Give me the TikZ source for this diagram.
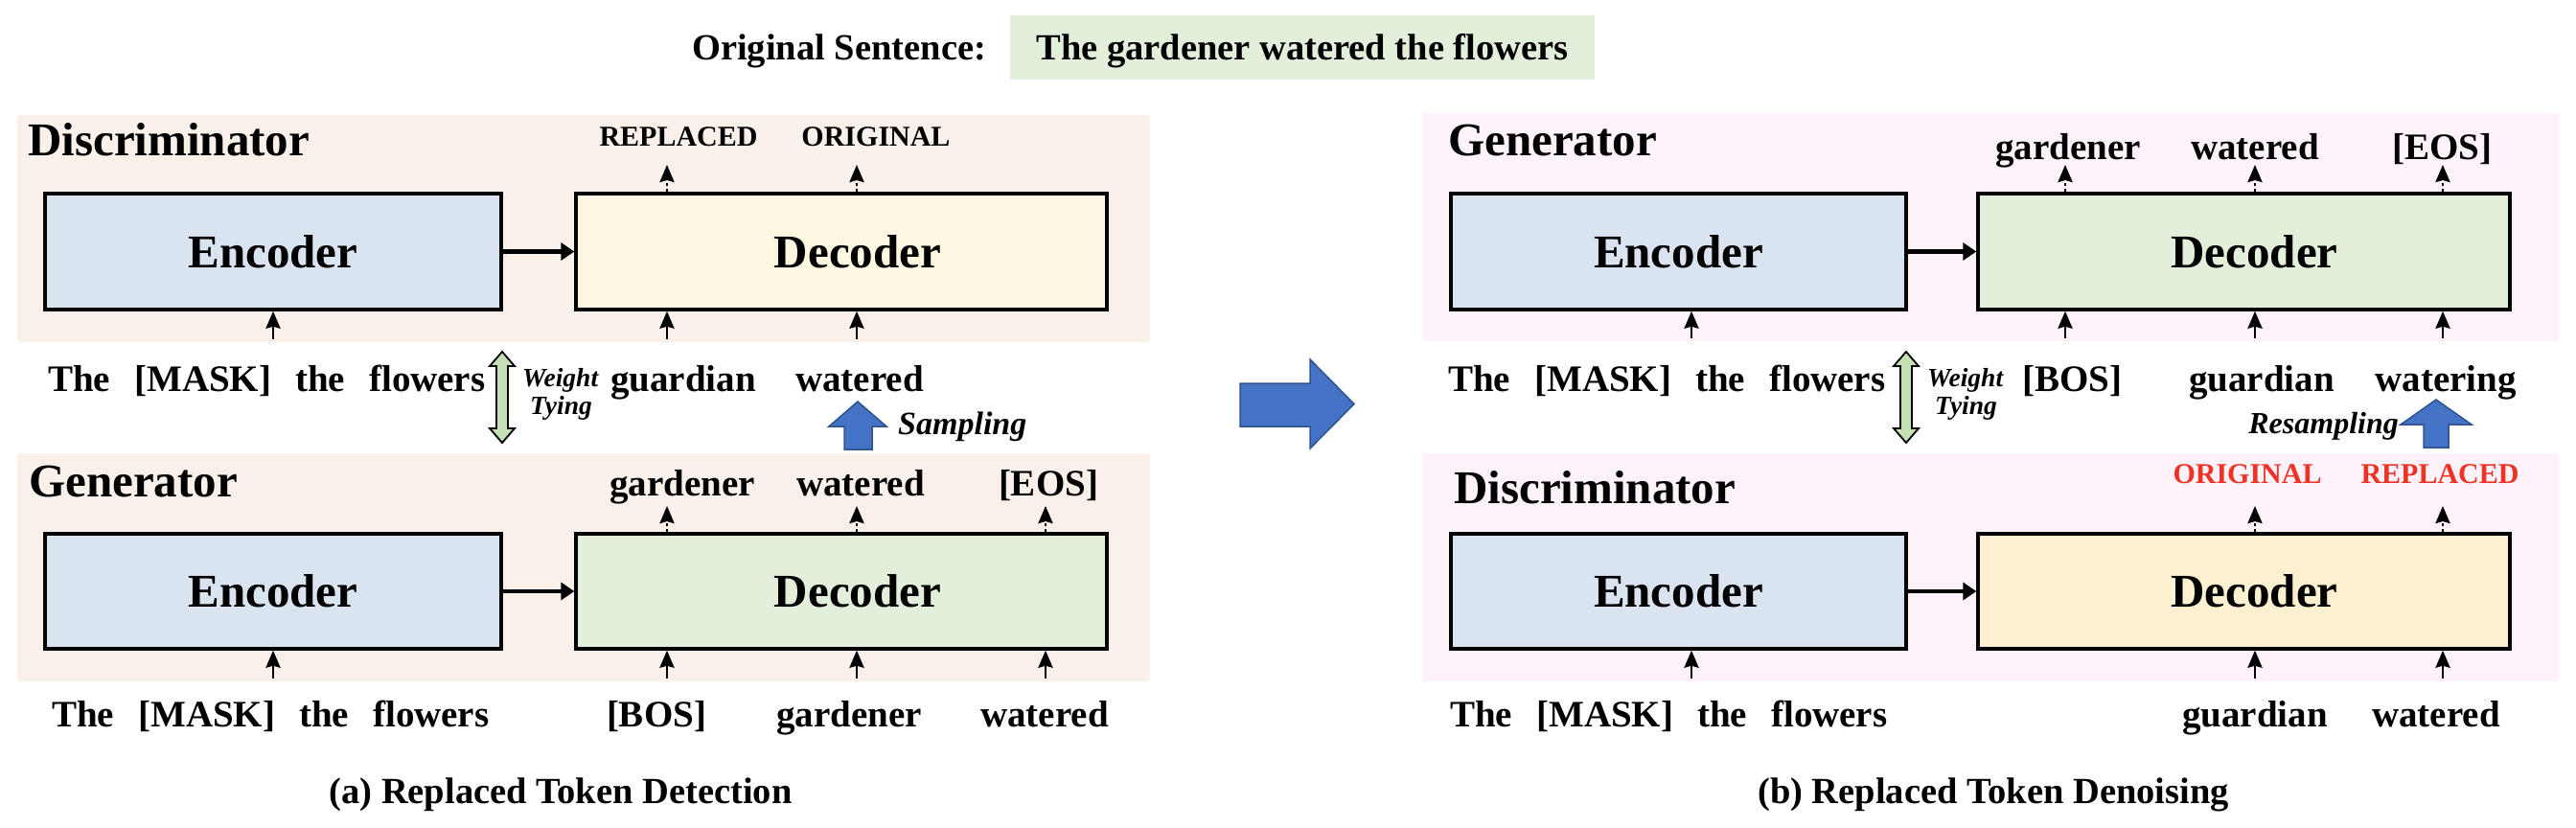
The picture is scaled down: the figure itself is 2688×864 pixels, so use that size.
\documentclass[tikz,border=0pt]{standalone}
\usepackage{fontspec}
\setmainfont{Liberation Serif}
\usetikzlibrary{arrows.meta}
\definecolor{peachbg}{HTML}{FAF0EA}
\definecolor{pinkbg}{HTML}{FDF1FA}
\definecolor{encfill}{HTML}{DAE3F0}
\definecolor{decyellowA}{HTML}{FDF6E0}
\definecolor{decgreen}{HTML}{E2EFDA}
\definecolor{decyellowB}{HTML}{FDF0D0}
\definecolor{titlegreen}{HTML}{E2EFDA}
\definecolor{arrowblue}{HTML}{4472C4}
\definecolor{arrowblueedge}{HTML}{2F528F}
\definecolor{tiegreen}{HTML}{C5E0B4}
\definecolor{labelred}{HTML}{EE3224}
\newcommand\fsBig{\fontsize{49}{55}\selectfont\bfseries}
\newcommand\fsWord{\fontsize{39}{45}\selectfont\bfseries}
\newcommand\fsCap{\fontsize{30}{35}\selectfont\bfseries}
\newcommand\fsTie{\fontsize{27.5}{30}\selectfont\bfseries\itshape}
\newcommand\fsSamp{\fontsize{34}{38}\selectfont\bfseries\itshape}
\newcommand\fsResamp{\fontsize{32}{36}\selectfont\bfseries\itshape}
\newcommand\fsTitle{\fontsize{38.5}{44}\selectfont\bfseries}
\newcommand\gap{\hspace{25pt}}
\begin{document}
\begin{tikzpicture}[x=1pt,y=-1pt,
  word/.style={font=\fsWord, anchor=base, inner sep=0pt},
  wordw/.style={word, anchor=base west},
  caplabel/.style={font=\fsCap, anchor=base, inner sep=0pt},
  ptitle/.style={font=\fsBig, anchor=base west, inner sep=0pt},
  block/.style={draw, line width=3.4pt, font=\fsBig, inner sep=0pt},
  inarrow/.style={-{Stealth[length=18pt,width=15pt,inset=2pt]}, line width=2.6pt},
  outarrow/.style={inarrow, dash pattern=on 3pt off 3pt},
  linkarrow/.style={-{Triangle[length=14pt,width=18pt]}, line width=4.5pt},
  bluearrow/.style={fill=arrowblue, draw=arrowblueedge, line width=1.5pt},
  tiearrow/.style={fill=tiegreen, draw=black, line width=1.8pt},
  tietext/.style={font=\fsTie, anchor=base west, inner sep=0pt}
]
\useasboundingbox (0,0) rectangle (2688,864);

% ---------- title ----------
\node[font=\fsTitle, anchor=base west, inner sep=0pt] (ostitle) at (722,63) {Original Sentence:};
\node[fill=titlegreen, font=\fsTitle, minimum width=610pt, minimum height=67pt,
      text height=30pt, text depth=3pt, inner sep=0pt] (osbox) at (1359,49.5)
      {The gardener watered the flowers};

% ---------- panel backgrounds ----------
\fill[peachbg, rounded corners=3pt] (18,120) rectangle (1200,357);
\fill[peachbg, rounded corners=3pt] (18,473) rectangle (1200,711);
\fill[pinkbg] (1484,118) rectangle (2670,356);
\fill[pinkbg] (1484,473) rectangle (2670,711);

% ================= (a) left =================
% Discriminator (top)
\node[ptitle] (ldtitle) at (29,162) {Discriminator};
\node[block, fill=encfill, minimum width=476pt, minimum height=121pt] (lenc1) at (285,262.5) {Encoder};
\node[block, fill=decyellowA, minimum width=554pt, minimum height=121pt] (ldec1) at (878,262.5) {\hspace*{34pt}Decoder};
\draw[linkarrow] (lenc1.east) -- (ldec1.west);

\node[caplabel] (lo1) at (708,153) {REPLACED};
\node[caplabel] (lo2) at (914,153) {ORIGINAL};
\coordinate (lo1t) at (696,172);
\coordinate (lo2t) at (894,172);
\draw[outarrow] (lo1t |- ldec1.north) -- (lo1t);
\draw[outarrow] (lo2t |- ldec1.north) -- (lo2t);

\coordinate (li1) at (285,354);
\coordinate (li2) at (696,354);
\coordinate (li3) at (894,354);
\draw[inarrow] (li1) -- (li1 |- lenc1.south);
\draw[inarrow] (li2) -- (li2 |- ldec1.south);
\draw[inarrow] (li3) -- (li3 |- ldec1.south);

\node[wordw] (lrow1a) at (50,408) {The\gap[MASK]\gap the\gap flowers};
\node[wordw] (lrow1b) at (637,408) {guardian};
\node[wordw] (lrow1c) at (830,408) {watered};

% weight tying arrow (left)
\draw[tiearrow] (524,367) -- (537,382) -- (530,382) -- (530,447) -- (537,447) -- (524,462)
  -- (511,447) -- (518,447) -- (518,382) -- (511,382) -- cycle;
\node[tietext] (ltie1) at (545,403) {Weight};
\node[tietext] (ltie2) at (553,432) {Tying};

% sampling arrow
\draw[bluearrow] (895,419) -- (925,445) -- (910,445) -- (910,469) -- (881,469) -- (881,445) -- (865,445) -- cycle;
\node[font=\fsSamp, anchor=base west, inner sep=0pt] (lsamp) at (937,453) {Sampling};

% Generator (bottom)
\node[ptitle] (lgtitle) at (30,518) {Generator};
\node[block, fill=encfill, minimum width=476pt, minimum height=120pt] (lenc2) at (285,617) {Encoder};
\node[block, fill=decgreen, minimum width=554pt, minimum height=120pt] (ldec2) at (878,617) {\hspace*{34pt}Decoder};
\draw[linkarrow] (lenc2.east) -- (ldec2.west);

\node[word] (lg1) at (712,517) {gardener};
\node[word] (lg2) at (898,517) {watered};
\node[word] (lg3) at (1094,517) {[EOS]};
\coordinate (lg1t) at (696,528);
\coordinate (lg2t) at (894,528);
\coordinate (lg3t) at (1091,528);
\draw[outarrow] (lg1t |- ldec2.north) -- (lg1t);
\draw[outarrow] (lg2t |- ldec2.north) -- (lg2t);
\draw[outarrow] (lg3t |- ldec2.north) -- (lg3t);

\coordinate (lj1) at (285,708);
\coordinate (lj2) at (696,708);
\coordinate (lj3) at (894,708);
\coordinate (lj4) at (1091,708);
\draw[inarrow] (lj1) -- (lj1 |- lenc2.south);
\draw[inarrow] (lj2) -- (lj2 |- ldec2.south);
\draw[inarrow] (lj3) -- (lj3 |- ldec2.south);
\draw[inarrow] (lj4) -- (lj4 |- ldec2.south);

\node[wordw] (lrow2a) at (54,758) {The\gap[MASK]\gap the\gap flowers};
\node[word] (lrow2b) at (685,758) {[BOS]};
\node[word] (lrow2c) at (886,758) {gardener};
\node[word] (lrow2d) at (1090,758) {watered};

\node[font=\fsTitle, anchor=base, inner sep=0pt] (capa) at (585,838) {(a) Replaced Token Detection};

% ---------- big middle arrow ----------
\draw[bluearrow] (1294,400) -- (1367,400) -- (1367,375) -- (1413,421.5) -- (1367,468) -- (1367,445) -- (1294,445) -- cycle;

% ================= (b) right =================
% Generator (top)
\node[ptitle] (rgtitle) at (1511,162) {Generator};
\node[block, fill=encfill, minimum width=475pt, minimum height=121pt] (renc1) at (1751.5,262.5) {Encoder};
\node[block, fill=decgreen, minimum width=555pt, minimum height=121pt] (rdec1) at (2341.5,262.5) {\hspace*{22pt}Decoder};
\draw[linkarrow] (renc1.east) -- (rdec1.west);

\node[word] (rg1) at (2158,166) {gardener};
\node[word] (rg2) at (2353,166) {watered};
\node[word] (rg3) at (2548,166) {[EOS]};
\coordinate (rg1t) at (2155,172);
\coordinate (rg2t) at (2353,172);
\coordinate (rg3t) at (2549,172);
\draw[outarrow] (rg1t |- rdec1.north) -- (rg1t);
\draw[outarrow] (rg2t |- rdec1.north) -- (rg2t);
\draw[outarrow] (rg3t |- rdec1.north) -- (rg3t);

\coordinate (ri1) at (1765,353);
\coordinate (ri2) at (2155,353);
\coordinate (ri3) at (2353,353);
\coordinate (ri4) at (2549,353);
\draw[inarrow] (ri1) -- (ri1 |- renc1.south);
\draw[inarrow] (ri2) -- (ri2 |- rdec1.south);
\draw[inarrow] (ri3) -- (ri3 |- rdec1.south);
\draw[inarrow] (ri4) -- (ri4 |- rdec1.south);

\node[wordw] (rrow1a) at (1511,408) {The\gap[MASK]\gap the\gap flowers};
\node[word] (rrow1b) at (2162,408) {[BOS]};
\node[word] (rrow1c) at (2360,408) {guardian};
\node[word] (rrow1d) at (2552,408) {watering};

% weight tying arrow (right)
\draw[tiearrow] (1989,367) -- (2002,382) -- (1995,382) -- (1995,447) -- (2002,447) -- (1989,462)
  -- (1976,447) -- (1983,447) -- (1983,382) -- (1976,382) -- cycle;
\node[tietext] (rtie1) at (2011,403) {Weight};
\node[tietext] (rtie2) at (2019,432) {Tying};

% resampling arrow
\draw[bluearrow] (2542,417) -- (2579,443) -- (2555,443) -- (2555,467) -- (2529,467) -- (2529,443) -- (2505,443) -- cycle;
\node[font=\fsResamp, anchor=base east, inner sep=0pt] (rsamp) at (2503,452) {Resampling};

% Discriminator (bottom)
\node[ptitle] (rdtitle) at (1517,525) {Discriminator};
\node[block, fill=encfill, minimum width=475pt, minimum height=120pt] (renc2) at (1751.5,617) {Encoder};
\node[block, fill=decyellowB, minimum width=555pt, minimum height=120pt] (rdec2) at (2341.5,617) {\hspace*{22pt}Decoder};
\draw[linkarrow] (renc2.east) -- (rdec2.west);

\node[caplabel, text=labelred] (ro1) at (2345,504) {ORIGINAL};
\node[caplabel, text=labelred] (ro2) at (2546,504) {REPLACED};
\coordinate (ro1t) at (2353,528);
\coordinate (ro2t) at (2549,528);
\draw[outarrow] (ro1t |- rdec2.north) -- (ro1t);
\draw[outarrow] (ro2t |- rdec2.north) -- (ro2t);

\coordinate (rj1) at (1765,708);
\coordinate (rj2) at (2353,708);
\coordinate (rj3) at (2549,708);
\draw[inarrow] (rj1) -- (rj1 |- renc2.south);
\draw[inarrow] (rj2) -- (rj2 |- rdec2.south);
\draw[inarrow] (rj3) -- (rj3 |- rdec2.south);

\node[wordw] (rrow2a) at (1513,758) {The\gap[MASK]\gap the\gap flowers};
\node[word] (rrow2b) at (2353,758) {guardian};
\node[word] (rrow2c) at (2542,758) {watered};

\node[font=\fsTitle, anchor=base, inner sep=0pt] (capb) at (2080,838) {(b) Replaced Token Denoising};
\end{tikzpicture}
\end{document}
